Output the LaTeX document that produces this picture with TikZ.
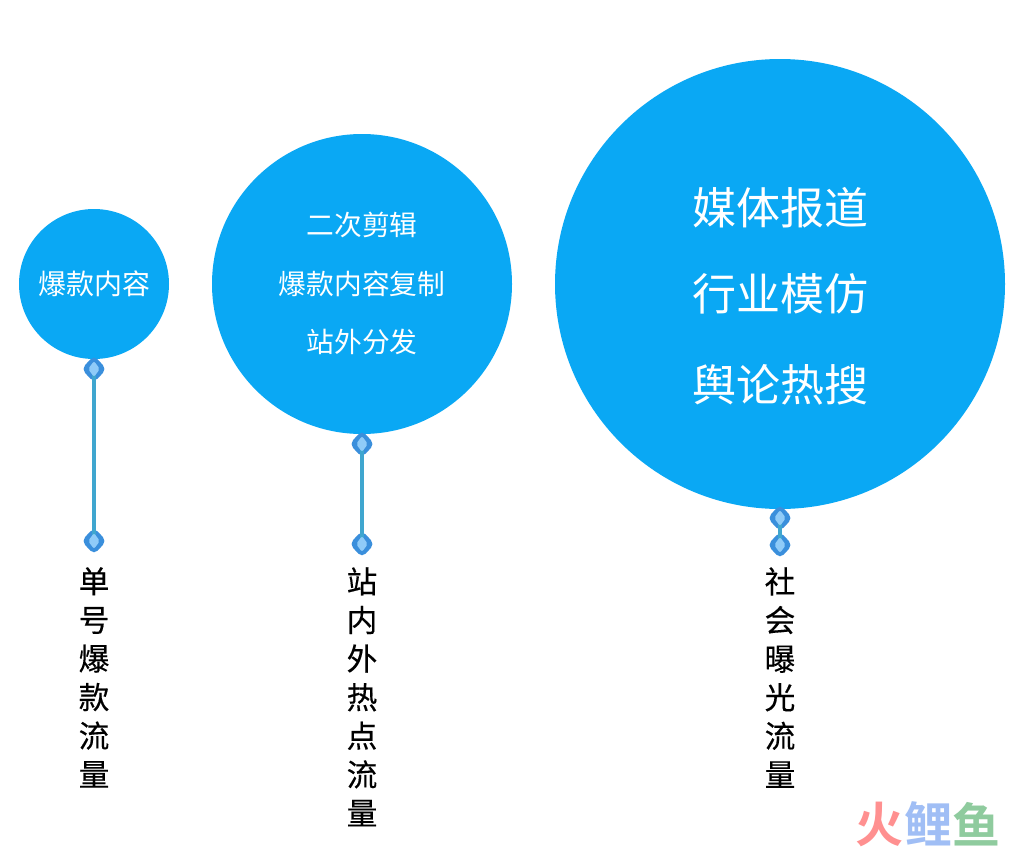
\documentclass[tikz,border=0pt]{standalone}
\usepackage{fontspec}
\setmainfont{Noto Sans CJK SC}
\newfontfamily\boldcjk{Noto Sans CJK SC Bold}
\newfontfamily\labelcjk[FakeBold=0.35]{Noto Sans CJK SC}
\usetikzlibrary{shapes.geometric}
\definecolor{bubble}{HTML}{0AA8F4}
\definecolor{pinouter}{HTML}{3A8FDC}
\definecolor{pininner}{HTML}{8FCBF8}
\definecolor{stemc}{HTML}{3FA6CF}
\definecolor{markred}{HTML}{FF9090}
\definecolor{markblue}{HTML}{A0BEF5}
\definecolor{markgreen}{HTML}{8FCB9E}
\tikzset{
  x=0.75pt,y=-0.75pt,
  bubblec/.style={circle,fill=bubble,draw=none,inner sep=0pt},
  pin/.style={diamond,fill=pinouter,draw=none,inner sep=0pt,minimum width=19pt,minimum height=20.5pt,rounded corners=4pt},
  pincore/.style={diamond,fill=pininner,draw=none,inner sep=0pt,minimum width=9pt,minimum height=12pt,rounded corners=1.5pt},
  stem/.style={draw=stemc,line width=2.6pt},
  small/.style={text=white,font=\fontsize{21}{21}\selectfont,inner sep=0pt},
  medium/.style={text=white,font=\fontsize{20.8}{20.8}\selectfont,inner sep=0pt},
  large/.style={text=white,font=\fontsize{33}{33}\selectfont,inner sep=0pt},
  vlabel/.style={text=black,font=\labelcjk\fontsize{23}{28.95}\selectfont,align=center,anchor=north,inner sep=0pt},
  mark1/.style={font=\boldcjk\fontsize{36}{36}\selectfont,inner sep=0pt}
}
\begin{document}
\begin{tikzpicture}
\useasboundingbox (0,0) rectangle (1024,850);
\fill[white] (0,0) rectangle (1024,850);
% bubbles
\node[bubblec,minimum size=112.5pt] (c1) at (94,284) {};
\node[bubblec,minimum size=225pt] (c2) at (362,284) {};
\node[bubblec,minimum size=337.5pt] (c3) at (780,284) {};
% pins
\node[pin] (p1a) at (94,369) {};
\node[pin] (p1b) at (94,541) {};
\node[pin] (p2a) at (362,444) {};
\node[pin] (p2b) at (362,544) {};
\node[pin] (p3a) at (780,518) {};
\node[pin] (p3b) at (780,545) {};
\draw[stem] (p1a.center) -- (p1b.center);
\draw[stem] (p2a.center) -- (p2b.center);
\draw[stem] (p3a.center) -- (p3b.center);
\foreach \n/\x/\y in {q1a/94/369,q1b/94/541,q2a/362/444,q2b/362/544,q3a/780/518,q3b/780/545}
  \node[pincore] (\n) at (\x,\y) {};
% bubble text
\node[small] (t1) at (94,284) {爆款内容};
\node[medium] (t2a) at (362,225) {二次剪辑};
\node[medium] (t2b) at (362,284) {爆款内容复制};
\node[medium] (t2c) at (362,342) {站外分发};
\node[large] (t3a) at (780,208) {媒体报道};
\node[large] (t3b) at (780,294) {行业模仿};
\node[large] (t3c) at (780,385) {舆论热搜};
% vertical labels
\node[vlabel] (l1) at (94,567) {单\\号\\爆\\款\\流\\量};
\node[vlabel] (l2) at (362,567) {站\\内\\外\\热\\点\\流\\量};
\node[vlabel] (l3) at (780,567) {社\\会\\曝\\光\\流\\量};
% watermark
\node[mark1,text=markred] (w1) at (879,824) {火};
\node[mark1,text=markblue] (w2) at (928,824) {鲤};
\node[mark1,text=markgreen] (w3) at (976,824) {鱼};
\end{tikzpicture}
\end{document}
